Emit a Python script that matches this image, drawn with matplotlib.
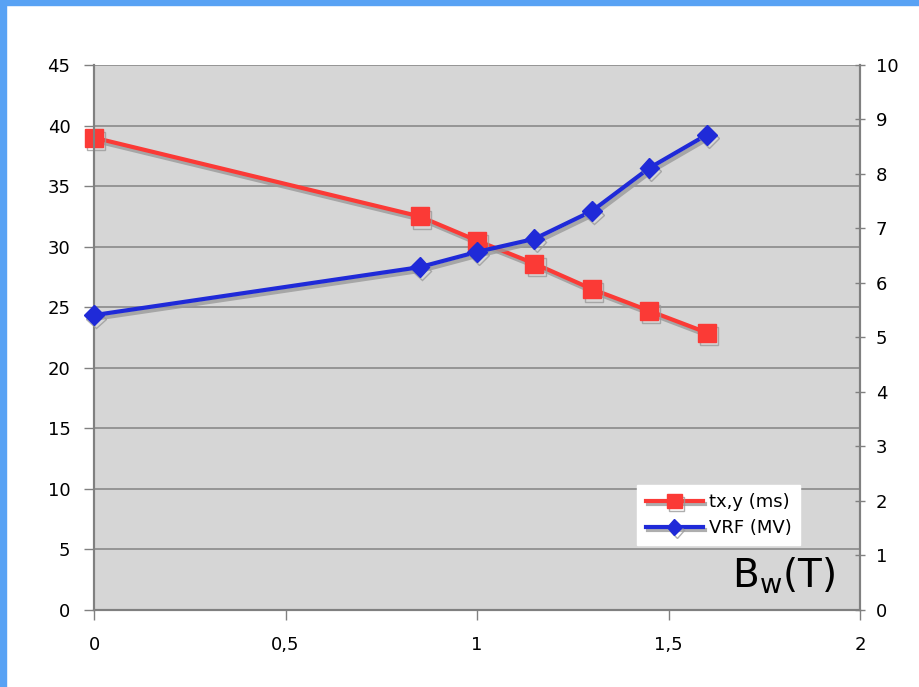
import matplotlib.pyplot as plt
import matplotlib.patheffects as pe
from matplotlib.patches import Rectangle

bw = [0, 0.85, 1.0, 1.15, 1.3, 1.45, 1.6]
txy = [39.0, 32.5, 30.5, 28.6, 26.5, 24.7, 22.9]
vrf = [5.41, 6.29, 6.57, 6.81, 7.32, 8.11, 8.72]

left_ticks = [0, 5, 10, 15, 20, 25, 30, 35, 40, 45]
right_ticks = list(range(0, 11))
x_ticks = [0, 0.5, 1, 1.5, 2]
x_labels = ['0', '0,5', '1', '1,5', '2']

fig = plt.figure(figsize=(9.19, 6.87), dpi=100)
# blue slide frame
fig.patches.append(Rectangle((0, 0.993), 1, 0.007, transform=fig.transFigure, color='#58a2f4', zorder=10))
fig.patches.append(Rectangle((0, 0), 0.0065, 1, transform=fig.transFigure, color='#58a2f4', zorder=10))

ax = fig.add_axes([0.1023, 0.1121, 0.8335, 0.7933])
ax.set_facecolor('#d6d6d6')
ax2 = ax.twinx()

shadow = [pe.SimpleLineShadow(offset=(1.5, -2.5), shadow_color='#9a9a9a', alpha=0.8), pe.Normal()]

ax.plot(bw, txy, color='#fb3a36', lw=3, marker='s', ms=13, label='tx,y (ms)',
        path_effects=shadow, zorder=3, clip_on=False)
ax2.plot(bw, vrf, color='#1f2ad8', lw=3, marker='D', ms=10, label='VRF (MV)',
         path_effects=shadow, zorder=3, clip_on=False)

ax.set_xlim(0, 2)
ax.set_ylim(0, 45)
ax2.set_ylim(0, 10)
ax.set_xticks(x_ticks)
ax.set_xticklabels(x_labels)
ax.set_yticks(left_ticks)
ax2.set_yticks(right_ticks)
ax.yaxis.grid(True, color='#8a8a8a', lw=1.2)
ax.set_axisbelow(True)

for a in (ax, ax2):
    for s in a.spines.values():
        s.set_color('#808080')
        s.set_linewidth(1.5)
ax.spines['top'].set_visible(False)
ax2.spines['top'].set_visible(False)
ax.tick_params(axis='both', labelsize=13, color='#808080', length=7, width=1)
ax.tick_params(axis='y', pad=10)
ax.tick_params(axis='x', pad=12)
ax2.tick_params(axis='y', labelsize=13, color='#808080', length=7, width=1, direction='inout', pad=8)

ax.text(0.968, 0.025, r'B$_{\mathrm{w}}$(T)', transform=ax.transAxes, ha='right', va='bottom', fontsize=28)

h1, l1 = ax.get_legend_handles_labels()
h2, l2 = ax2.get_legend_handles_labels()
leg = ax2.legend(h1 + h2, l1 + l2, loc='lower right', bbox_to_anchor=(0.933, 0.102), fontsize=13,
                 frameon=True, fancybox=False, framealpha=1, edgecolor='white',
                 handlelength=3.2, borderpad=0.45, labelspacing=0.45, handletextpad=0.3,
                 markerscale=0.8)

fig.savefig('out.png')
